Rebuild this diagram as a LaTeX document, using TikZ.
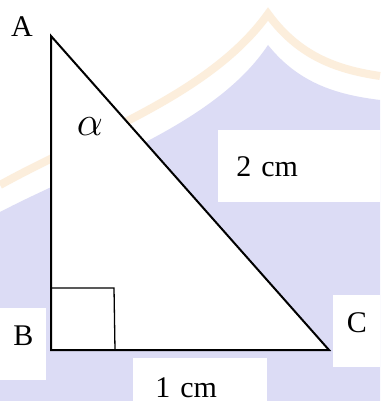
\documentclass[tikz,border=0pt]{standalone}
\usepackage{fontspec}
\setmainfont{Liberation Serif}
\usetikzlibrary{positioning}
\definecolor{Ink}{HTML}{000000}
\definecolor{Lav}{HTML}{DCDCF5}
\definecolor{Peach}{HTML}{FCEEDC}
\tikzset{
  side/.style={draw=Ink, line width=1pt, line join=miter},
  rightmark/.style={draw=Ink, line width=0.65pt},
  vlabel/.style={inner sep=0pt, font=\fontsize{15}{18}\selectfont},
  labelbox/.style={fill=white, inner sep=0pt, font=\fontsize{15}{18}\selectfont}
}
\begin{document}
\begin{tikzpicture}[x=0.5pt,y=-0.5pt]
    \useasboundingbox (0,0) rectangle (380,401);
    % faded background
    \fill[white] (0,0) rectangle (380,401);
    \fill[Lav] (0,212) .. controls (90,165) and (215,125) .. (268,45)
      .. controls (300,85) and (340,95) .. (380,100) -- (380,401) -- (0,401) -- cycle;
    \draw[Peach, line width=4pt] (0,185) .. controls (90,135) and (210,95) .. (268,14)
      .. controls (300,58) and (340,70) .. (380,76);
    % vertices
    \coordinate (A) at (51,36);
    \coordinate (B) at (51,350);
    \coordinate (C) at (329,350);
    \fill[white] (A) -- (B) -- (C) -- cycle;
    % right angle
    \coordinate (sqa) at (51,288);
    \coordinate (sqb) at (114,288);
    \coordinate (sqc) at (115,350);
    \draw[rightmark] (sqa) -- (sqb) -- (sqc);
    \draw[side] (A) -- (B) -- (C) -- cycle;
    % labels
    \node[vlabel] (labA) at (22,27) {A};
    \node[labelbox, minimum width=23pt, minimum height=36pt, anchor=north west] (labB) at (0,308) {B\rule[-9pt]{0pt}{1pt}};
    \node[labelbox, minimum width=23.5pt, minimum height=36pt, anchor=north west] (labC) at (333,295) {C\rule[-9pt]{0pt}{1pt}};
    \node[labelbox, minimum height=36pt, text width=63pt, inner xsep=9pt, align=left, anchor=north west] (labH) at (218,130) {2 cm};
    \node[labelbox, minimum height=29pt, text width=45pt, inner xsep=11pt, align=left, anchor=north west] (labS) at (133,358) {1 cm};
    \node[vlabel, font=\fontsize{20}{24}\selectfont] (alpha) at (90,127) {$\alpha$};
\end{tikzpicture}
\end{document}
